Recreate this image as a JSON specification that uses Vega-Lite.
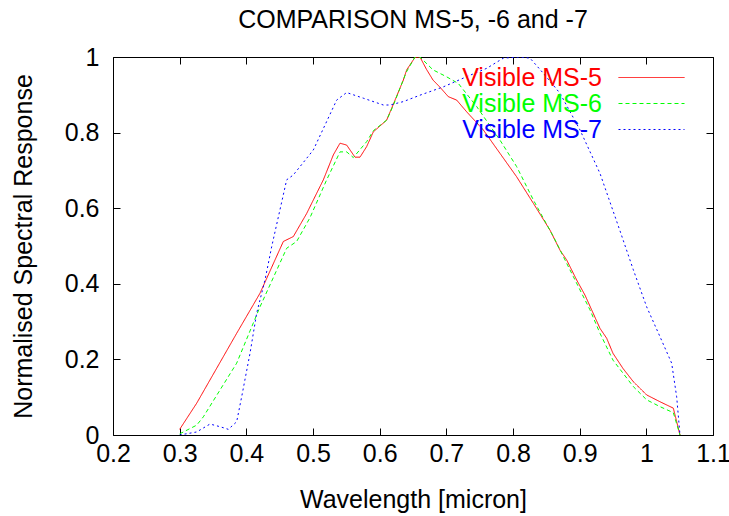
{
  "$schema": "https://vega.github.io/schema/vega-lite/v6.json",
  "width": 600,
  "height": 378,
  "autosize": {"type": "none"},
  "padding": {"left": 113, "top": 57, "right": 16, "bottom": 81},
  "background": "white",
  "title": {
    "text": "COMPARISON MS-5, -6 and -7",
    "font": "Liberation Sans",
    "fontSize": 25,
    "fontWeight": "normal",
    "color": "black",
    "baseline": "alphabetic",
    "frame": "group",
    "offset": -8,
    "anchor": "middle"
  },
  "config": {
    "view": {"stroke": "black", "strokeWidth": 1},
    "axis": {
      "domain": false,
      "grid": false,
      "tickColor": "black",
      "tickSize": -7,
      "tickWidth": 1,
      "labelFont": "Liberation Sans",
      "labelFontSize": 25,
      "labelColor": "black",
      "titleFont": "Liberation Sans",
      "titleFontSize": 25,
      "titleFontWeight": "normal",
      "titleColor": "black"
    }
  },
  "data": {
    "values": [
      {"w": 0.300, "r": 0.015, "s": "Visible MS-5"},
      {"w": 0.3255, "r": 0.084, "s": "Visible MS-5"},
      {"w": 0.3855, "r": 0.269, "s": "Visible MS-5"},
      {"w": 0.4205, "r": 0.375, "s": "Visible MS-5"},
      {"w": 0.4555, "r": 0.512, "s": "Visible MS-5"},
      {"w": 0.4705, "r": 0.525, "s": "Visible MS-5"},
      {"w": 0.4905, "r": 0.586, "s": "Visible MS-5"},
      {"w": 0.5155, "r": 0.675, "s": "Visible MS-5"},
      {"w": 0.5305, "r": 0.741, "s": "Visible MS-5"},
      {"w": 0.5405, "r": 0.772, "s": "Visible MS-5"},
      {"w": 0.5505, "r": 0.767, "s": "Visible MS-5"},
      {"w": 0.563, "r": 0.735, "s": "Visible MS-5"},
      {"w": 0.5705, "r": 0.735, "s": "Visible MS-5"},
      {"w": 0.5805, "r": 0.763, "s": "Visible MS-5"},
      {"w": 0.5905, "r": 0.802, "s": "Visible MS-5"},
      {"w": 0.6105, "r": 0.833, "s": "Visible MS-5"},
      {"w": 0.620, "r": 0.873, "s": "Visible MS-5"},
      {"w": 0.6355, "r": 0.939, "s": "Visible MS-5"},
      {"w": 0.6405, "r": 0.966, "s": "Visible MS-5"},
      {"w": 0.653, "r": 0.999, "s": "Visible MS-5"},
      {"w": 0.6605, "r": 1.0, "s": "Visible MS-5"},
      {"w": 0.670, "r": 0.968, "s": "Visible MS-5"},
      {"w": 0.680, "r": 0.939, "s": "Visible MS-5"},
      {"w": 0.690, "r": 0.921, "s": "Visible MS-5"},
      {"w": 0.703, "r": 0.895, "s": "Visible MS-5"},
      {"w": 0.7155, "r": 0.886, "s": "Visible MS-5"},
      {"w": 0.7305, "r": 0.855, "s": "Visible MS-5"},
      {"w": 0.7555, "r": 0.807, "s": "Visible MS-5"},
      {"w": 0.7805, "r": 0.745, "s": "Visible MS-5"},
      {"w": 0.8055, "r": 0.683, "s": "Visible MS-5"},
      {"w": 0.8305, "r": 0.613, "s": "Visible MS-5"},
      {"w": 0.8555, "r": 0.542, "s": "Visible MS-5"},
      {"w": 0.8705, "r": 0.489, "s": "Visible MS-5"},
      {"w": 0.8805, "r": 0.463, "s": "Visible MS-5"},
      {"w": 0.8955, "r": 0.410, "s": "Visible MS-5"},
      {"w": 0.908, "r": 0.370, "s": "Visible MS-5"},
      {"w": 0.9305, "r": 0.282, "s": "Visible MS-5"},
      {"w": 0.9405, "r": 0.256, "s": "Visible MS-5"},
      {"w": 0.950, "r": 0.216, "s": "Visible MS-5"},
      {"w": 0.965, "r": 0.176, "s": "Visible MS-5"},
      {"w": 0.9805, "r": 0.141, "s": "Visible MS-5"},
      {"w": 1.0005, "r": 0.106, "s": "Visible MS-5"},
      {"w": 1.0205, "r": 0.088, "s": "Visible MS-5"},
      {"w": 1.0405, "r": 0.071, "s": "Visible MS-5"},
      {"w": 1.0505, "r": 0.0, "s": "Visible MS-5"},

      {"w": 0.300, "r": 0.003, "s": "Visible MS-6"},
      {"w": 0.3255, "r": 0.026, "s": "Visible MS-6"},
      {"w": 0.3355, "r": 0.048, "s": "Visible MS-6"},
      {"w": 0.3855, "r": 0.190, "s": "Visible MS-6"},
      {"w": 0.4205, "r": 0.339, "s": "Visible MS-6"},
      {"w": 0.4605, "r": 0.494, "s": "Visible MS-6"},
      {"w": 0.4755, "r": 0.512, "s": "Visible MS-6"},
      {"w": 0.4955, "r": 0.575, "s": "Visible MS-6"},
      {"w": 0.5205, "r": 0.675, "s": "Visible MS-6"},
      {"w": 0.5405, "r": 0.749, "s": "Visible MS-6"},
      {"w": 0.5505, "r": 0.749, "s": "Visible MS-6"},
      {"w": 0.5605, "r": 0.734, "s": "Visible MS-6"},
      {"w": 0.5805, "r": 0.776, "s": "Visible MS-6"},
      {"w": 0.5905, "r": 0.805, "s": "Visible MS-6"},
      {"w": 0.6105, "r": 0.833, "s": "Visible MS-6"},
      {"w": 0.620, "r": 0.870, "s": "Visible MS-6"},
      {"w": 0.640, "r": 0.960, "s": "Visible MS-6"},
      {"w": 0.653, "r": 1.0, "s": "Visible MS-6"},
      {"w": 0.6605, "r": 1.0, "s": "Visible MS-6"},
      {"w": 0.680, "r": 0.966, "s": "Visible MS-6"},
      {"w": 0.700, "r": 0.948, "s": "Visible MS-6"},
      {"w": 0.718, "r": 0.930, "s": "Visible MS-6"},
      {"w": 0.7455, "r": 0.869, "s": "Visible MS-6"},
      {"w": 0.7805, "r": 0.780, "s": "Visible MS-6"},
      {"w": 0.8055, "r": 0.710, "s": "Visible MS-6"},
      {"w": 0.8305, "r": 0.622, "s": "Visible MS-6"},
      {"w": 0.8605, "r": 0.525, "s": "Visible MS-6"},
      {"w": 0.8755, "r": 0.472, "s": "Visible MS-6"},
      {"w": 0.8905, "r": 0.419, "s": "Visible MS-6"},
      {"w": 0.9155, "r": 0.331, "s": "Visible MS-6"},
      {"w": 0.9305, "r": 0.269, "s": "Visible MS-6"},
      {"w": 0.950, "r": 0.198, "s": "Visible MS-6"},
      {"w": 0.9805, "r": 0.128, "s": "Visible MS-6"},
      {"w": 1.0005, "r": 0.093, "s": "Visible MS-6"},
      {"w": 1.0205, "r": 0.075, "s": "Visible MS-6"},
      {"w": 1.0405, "r": 0.059, "s": "Visible MS-6"},
      {"w": 1.0505, "r": 0.0, "s": "Visible MS-6"},

      {"w": 0.300, "r": 0.0, "s": "Visible MS-7"},
      {"w": 0.3255, "r": 0.008, "s": "Visible MS-7"},
      {"w": 0.3455, "r": 0.029, "s": "Visible MS-7"},
      {"w": 0.3605, "r": 0.022, "s": "Visible MS-7"},
      {"w": 0.373, "r": 0.015, "s": "Visible MS-7"},
      {"w": 0.3855, "r": 0.035, "s": "Visible MS-7"},
      {"w": 0.393, "r": 0.101, "s": "Visible MS-7"},
      {"w": 0.4055, "r": 0.216, "s": "Visible MS-7"},
      {"w": 0.4155, "r": 0.322, "s": "Visible MS-7"},
      {"w": 0.428, "r": 0.410, "s": "Visible MS-7"},
      {"w": 0.438, "r": 0.498, "s": "Visible MS-7"},
      {"w": 0.4605, "r": 0.675, "s": "Visible MS-7"},
      {"w": 0.4705, "r": 0.688, "s": "Visible MS-7"},
      {"w": 0.5005, "r": 0.754, "s": "Visible MS-7"},
      {"w": 0.5355, "r": 0.886, "s": "Visible MS-7"},
      {"w": 0.5505, "r": 0.906, "s": "Visible MS-7"},
      {"w": 0.5755, "r": 0.891, "s": "Visible MS-7"},
      {"w": 0.6055, "r": 0.873, "s": "Visible MS-7"},
      {"w": 0.6155, "r": 0.873, "s": "Visible MS-7"},
      {"w": 0.6355, "r": 0.882, "s": "Visible MS-7"},
      {"w": 0.6605, "r": 0.899, "s": "Visible MS-7"},
      {"w": 0.6955, "r": 0.921, "s": "Visible MS-7"},
      {"w": 0.7305, "r": 0.948, "s": "Visible MS-7"},
      {"w": 0.7605, "r": 0.970, "s": "Visible MS-7"},
      {"w": 0.7855, "r": 0.997, "s": "Visible MS-7"},
      {"w": 0.8105, "r": 1.0, "s": "Visible MS-7"},
      {"w": 0.8255, "r": 0.997, "s": "Visible MS-7"},
      {"w": 0.8455, "r": 0.957, "s": "Visible MS-7"},
      {"w": 0.8705, "r": 0.904, "s": "Visible MS-7"},
      {"w": 0.9005, "r": 0.807, "s": "Visible MS-7"},
      {"w": 0.9305, "r": 0.692, "s": "Visible MS-7"},
      {"w": 0.9605, "r": 0.540, "s": "Visible MS-7"},
      {"w": 0.9805, "r": 0.437, "s": "Visible MS-7"},
      {"w": 1.0005, "r": 0.339, "s": "Visible MS-7"},
      {"w": 1.0205, "r": 0.260, "s": "Visible MS-7"},
      {"w": 1.038, "r": 0.190, "s": "Visible MS-7"},
      {"w": 1.0455, "r": 0.101, "s": "Visible MS-7"},
      {"w": 1.0505, "r": 0.0, "s": "Visible MS-7"}
    ]
  },
  "layer": [
    {
      "mark": {"type": "line", "strokeWidth": 1, "clip": true},
      "encoding": {
        "x": {
          "field": "w", "type": "quantitative",
          "scale": {"domain": [0.2, 1.1], "nice": false, "zero": false},
          "axis": {
            "orient": "bottom",
            "values": [0.2, 0.3, 0.4, 0.5, 0.6, 0.7, 0.8, 0.9, 1.0, 1.1],
            "format": "~g",
            "labelBaseline": "alphabetic",
            "labelPadding": 33,
            "labelFlush": false,
            "labelOverlap": false,
            "title": "Wavelength [micron]",
            "titleBaseline": "alphabetic",
            "titleY": 72,
            "titleX": 300
          }
        },
        "y": {
          "field": "r", "type": "quantitative",
          "scale": {"domain": [0, 1], "nice": false},
          "axis": {
            "orient": "left",
            "values": [0, 0.2, 0.4, 0.6, 0.8, 1.0],
            "format": "~g",
            "labelPadding": 21,
            "labelFlush": false,
            "labelOverlap": false,
            "title": "Normalised Spectral Response",
            "titleBaseline": "alphabetic",
            "titleX": -82,
            "titleY": 189,
            "titleAngle": -90,
            "titleAlign": "center"
          }
        },
        "color": {
          "field": "s", "type": "nominal",
          "scale": {"domain": ["Visible MS-5", "Visible MS-6", "Visible MS-7"], "range": ["#ff0000", "#00ff00", "#0000ff"]},
          "legend": {
            "orient": "none",
            "legendX": 526,
            "legendY": 8,
            "title": null,
            "padding": 0,
            "symbolType": "M-3,0H3",
            "symbolSize": 484,
            "symbolStrokeWidth": 1,
            "labelAlign": "right",
            "labelOffset": -62,
            "labelFont": "Liberation Sans",
            "labelFontSize": 25,
            "labelLimit": 400,
            "rowPadding": 0,
            "encode": {
              "labels": {
                "update": {
                  "fill": {"signal": "datum.value === 'Visible MS-5' ? '#ff0000' : datum.value === 'Visible MS-6' ? '#00ff00' : '#0000ff'"}
                }
              },
              "symbols": {
                "update": {
                  "stroke": {"signal": "datum.value === 'Visible MS-5' ? '#ff0000' : datum.value === 'Visible MS-6' ? '#00ff00' : '#0000ff'"},
                  "strokeDash": {"signal": "datum.value === 'Visible MS-5' ? [] : datum.value === 'Visible MS-6' ? [4, 3] : [2, 3]"},
                  "strokeOpacity": {"value": 1},
                  "opacity": {"value": 1}
                }
              }
            }
          }
        },
        "strokeDash": {
          "field": "s", "type": "nominal",
          "scale": {"domain": ["Visible MS-5", "Visible MS-6", "Visible MS-7"], "range": [[1, 0], [4, 3], [2, 3]]},
          "legend": null
        }
      }
    },
    {
      "mark": {"type": "point", "opacity": 0},
      "encoding": {
        "x": {
          "field": "w", "type": "quantitative",
          "scale": {"domain": [0.2, 1.1], "nice": false, "zero": false},
          "axis": {
            "orient": "top",
            "values": [0.2, 0.3, 0.4, 0.5, 0.6, 0.7, 0.8, 0.9, 1.0, 1.1],
            "labels": false,
            "title": null
          }
        },
        "y": {
          "field": "r", "type": "quantitative",
          "scale": {"domain": [0, 1], "nice": false},
          "axis": {
            "orient": "right",
            "values": [0, 0.2, 0.4, 0.6, 0.8, 1.0],
            "labels": false,
            "title": null
          }
        }
      }
    }
  ],
  "resolve": {"axis": {"x": "independent", "y": "independent"}}
}
